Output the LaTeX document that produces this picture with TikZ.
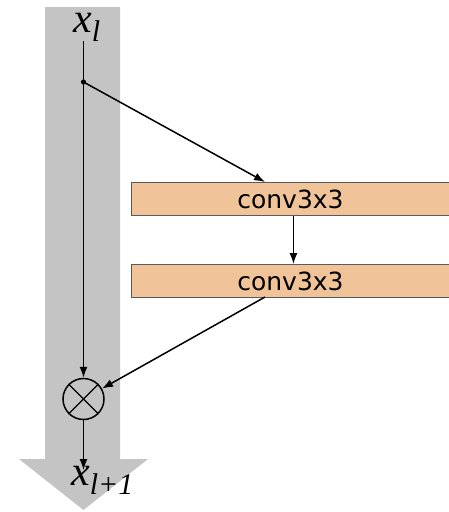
\documentclass[tikz,border=0pt]{standalone}
\usepackage{fontspec}
\setmainfont{Liberation Serif}
\newfontfamily\boxfont{DejaVu Sans}
\usetikzlibrary{arrows.meta}
\definecolor{flowgray}{HTML}{C4C4C4}
\definecolor{convfill}{HTML}{F0C498}
\definecolor{convedge}{HTML}{5A5A5A}
\tikzset{
  convbox/.style={draw=convedge, line width=0.9pt, fill=convfill, minimum width=318pt,
    minimum height=33pt, inner sep=0pt, font=\boxfont\fontsize{25}{25}\selectfont},
  link/.style={line width=1.5pt, -{Latex[length=11pt,width=8pt]}},
  varlabel/.style={inner sep=0pt, font=\fontsize{42}{42}\selectfont\itshape},
}
\newcommand{\subtxt}[1]{\raisebox{-9pt}{\fontsize{30}{30}\selectfont #1}}
\begin{document}
\begin{tikzpicture}[x=1pt,y=-1pt]
  \useasboundingbox (0,0) rectangle (449,512);
  \fill[white] (0,0) rectangle (449,512);
  % identity path drawn as a wide gray arrow
  \fill[flowgray] (45,7) -- (120,7) -- (120,459) -- (148,459) -- (83.5,510)
    -- (19,459) -- (45,459) -- cycle;
  % labels
  \node[varlabel, anchor=base west] (xin) at (73,32) {x\subtxt{l}};
  \node[varlabel, anchor=base west] (xout) at (71,485) {x\subtxt{l+1}};
  % residual branch
  \node[convbox, anchor=north west] (c1) at (131,182) {conv3x3};
  \node[convbox, anchor=north west] (c2) at (131,264) {conv3x3};
  % merge node
  \node[draw, line width=1.5pt, circle, minimum size=41pt, inner sep=0pt] (m) at (83.5,399) {};
  \draw[line width=1.2pt] (m.north west) -- (m.south east) (m.north east) -- (m.south west);
  \coordinate (top) at (83.5,41);
  \coordinate (split) at (83.5,82);
  \coordinate (c1in) at (265,182);
  \coordinate (c2out) at (265,297);
  \coordinate (outend) at (83.5,470);
  \fill (split) circle (2.6pt);
  \draw[link] (top) -- (m.north);
  \draw[link] (split) -- (c1in);
  \draw[link] ([xshift=3pt]c1.south) -- ([xshift=3pt]c2.north);
  \draw[link] (c2out) -- (m);
  \draw[link] (m.south) -- (outend);
\end{tikzpicture}
\end{document}
